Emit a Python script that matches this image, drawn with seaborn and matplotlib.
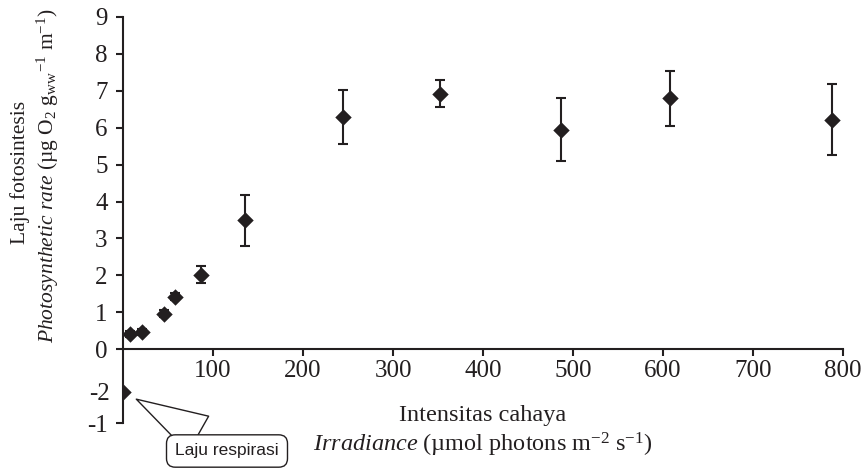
import pandas as pd
import seaborn as sns
import matplotlib.pyplot as plt

# data
irradiance = [0, 8, 21, 45, 58, 87, 136, 244, 352, 487, 608, 788]
rate = [-1.15, 0.40, 0.47, 0.96, 1.42, 2.02, 3.49, 6.30, 6.92, 5.95, 6.80, 6.22]
rate_err = [0.0, 0.08, 0.08, 0.10, 0.10, 0.23, 0.70, 0.73, 0.36, 0.86, 0.75, 0.97]

x_ticks = [100, 200, 300, 400, 500, 600, 700, 800]
y_ticks = [-2, 0, 1, 2, 3, 4, 5, 6, 7, 8, 9]
y_tick_labels = ['-1', '0', '1', '2', '3', '4', '5', '6', '7', '8', '9']

df = pd.DataFrame({'irr': irradiance, 'rate': rate, 'err': rate_err})

sns.set_style('ticks')
plt.rcParams['font.family'] = ['Liberation Serif', 'DejaVu Serif']
plt.rcParams['mathtext.fontset'] = 'custom'
plt.rcParams['mathtext.rm'] = 'Liberation Serif'
plt.rcParams['mathtext.it'] = 'Liberation Serif:italic'

ink = '#231f20'
W, H = 864, 472

fig = plt.figure(figsize=(W / 100, H / 100), dpi=100)
ax = fig.add_axes([123 / W, 49 / H, 720 / W, 406 / H])

# error bars (skip the respiration point)
eb = df[df.err > 0]
ax.errorbar(eb.irr, eb.rate, yerr=eb.err, fmt='none', ecolor=ink,
            elinewidth=1.5, capsize=3.4, capthick=1.5, zorder=2)
sns.scatterplot(data=df, x='irr', y='rate', marker='D', s=70, color=ink,
                edgecolor=ink, linewidth=0, ax=ax, zorder=3, legend=False)

ax.set_xlim(0, 800)
ax.set_ylim(-2, 9)
ax.spines['bottom'].set_position(('data', 0))
ax.spines[['top', 'right']].set_visible(False)
for s in ['left', 'bottom']:
    ax.spines[s].set_linewidth(1.5)
    ax.spines[s].set_color(ink)

ax.set_xticks(x_ticks, labels=[str(v) for v in x_ticks])
ax.set_yticks(y_ticks, labels=y_tick_labels)
ax.set_yticks([rate[0]], labels=['-2'], minor=True)
ax.set_xticks([], minor=True)
ax.tick_params(which='major', direction='out', length=5, width=1.5,
               color=ink, labelcolor=ink, labelsize=18)
ax.tick_params(axis='y', which='major', pad=6)
ax.tick_params(axis='x', which='major', pad=3)
ax.tick_params(axis='y', which='minor', length=0, pad=9.6,
               labelsize=18, labelcolor=ink)
ax.set_xlabel('')
ax.set_ylabel('')

# axis titles
fig.text(483 / W, 1 - 416 / H, 'Intensitas cahaya', ha='center', va='center',
         fontsize=17.5, color=ink)
fig.text(483 / W, 1 - 445 / H,
         r'$\it{Irradiance}$ (µmol photons m$^{-2}$ s$^{-1}$)',
         ha='center', va='center', fontsize=17.5, color=ink)
fig.text(20 / W, 1 - 172 / H, 'Laju fotosintesis', rotation=90,
         ha='center', va='center', fontsize=15.5, color=ink)
fig.text(48 / W, 1 - 176 / H,
         r'$\it{Photosynthetic\ rate}$ (µg O$_2$ g$_{\rm ww}$$^{-1}$ m$^{-1}$)',
         rotation=90, ha='center', va='center', fontsize=15.5, color=ink)

# callout for respiration point
ax.annotate('Laju respirasi', xy=(irradiance[0], rate[0]), xycoords='data',
            xytext=(227 / W, 1 - 451 / H), textcoords='figure fraction',
            ha='center', va='center', fontsize=12.5, color=ink,
            family=['Liberation Sans', 'DejaVu Sans'],
            annotation_clip=False,
            bbox=dict(boxstyle='round,pad=0.5,rounding_size=0.5',
                      fc='white', ec=ink, lw=1),
            arrowprops=dict(arrowstyle='wedge,tail_width=2.4,shrink_factor=0.5',
                            fc='white', ec=ink, lw=1, relpos=(0.38, 1),
                            shrinkA=0, shrinkB=11))

plt.savefig('out.png', dpi=100)
